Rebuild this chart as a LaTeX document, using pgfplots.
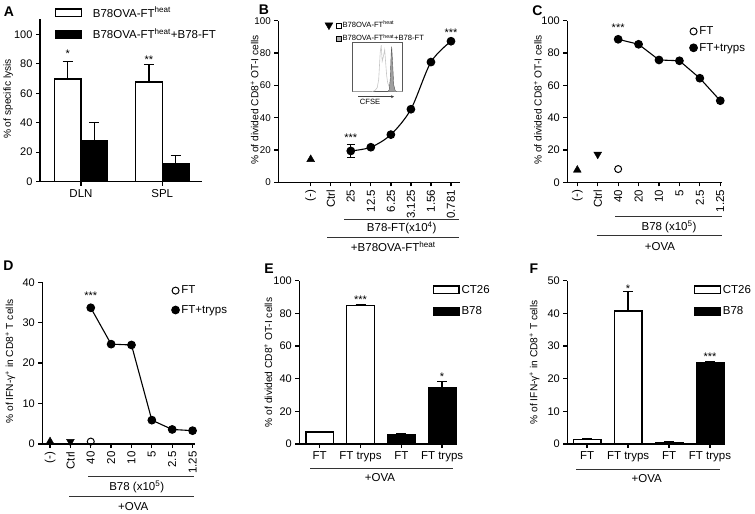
\documentclass[border=0pt]{standalone}
\usepackage{fontspec}
\setmainfont{Liberation Sans}
\usepackage{pgfplots}
\pgfplotsset{compat=1.18}
\usetikzlibrary{arrows.meta}

\newcommand{\tl}{\fontsize{11.5bp}{13bp}\selectfont}
\newcommand{\yt}{\fontsize{11bp}{12bp}\selectfont}
\newcommand{\yl}{\fontsize{10.2bp}{12bp}\selectfont}
\newcommand{\st}{\fontsize{11bp}{12bp}\selectfont}
\newcommand{\sm}{\fontsize{7.6bp}{8.5bp}\selectfont}

\pgfplotsset{
  panel/.style={
    scale only axis, anchor=south west, clip=false,
    axis x line*=bottom, axis y line*=left,
    axis line style={-, line width=1.3bp},
    every tick/.style={black, line width=1.3bp},
    major tick length=4bp, tick align=outside,
    x tick label style={font=\tl},
    y tick label style={font=\yt},
    ylabel style={font=\yl, anchor=center},
    /pgf/number format/assume math mode=true,
    ymin=0,
    legend style={draw=none, fill=none, inner sep=0pt, outer sep=0pt,
      font=\tl, anchor=north west, cells={anchor=west}},
  },
  ylab/.style 2 args={ylabel style={at={(axis description cs:#1,#2)}}},
  catx/.style={xtick={0,...,7}, x tick label style={rotate=90, anchor=east}},
  circleg/.style={legend image code/.code={\draw[##1, only marks] plot coordinates {(4bp,0bp)};}},
  boxleg/.style={legend image code/.code={\draw[##1, line width=1.3bp] (0bp,-3.8bp) rectangle (25.6bp,3.8bp);}},
  errb/.style={error bars/.cd, y dir=plus, y explicit,
    error bar style={line width=1.3bp, black},
    error mark options={rotate=90, line width=1.3bp, mark size=5bp, black}},
}

\begin{document}
\begin{tikzpicture}

% ---------------- A ----------------
\begin{axis}[panel, at={(40bp,332.3bp)}, width=161.7bp, height=162.2bp,
  xmin=0.496, xmax=2.485, ymax=110, ytick={0,20,...,100},
  xtick={1,2}, xticklabels={DLN,SPL},
  ybar=0pt, bar width=26.7bp,
  ylabel={\% of specific lysis}, ylab={-0.196}{0.51},
  legend style={at={(axis description cs:0.093,1.09)}, row sep=6bp},
  boxleg]
\addplot[fill=white, draw=black, line width=1.3bp, errb]
  coordinates {(1,69.7) +- (0,11.7) (2,67.6) +- (0,12.0)};
\addlegendentry{\hspace{9bp}B78OVA-FT\textsuperscript{heat}}
\addplot[fill=black, draw=black, line width=1.3bp, errb]
  coordinates {(1,28.1) +- (0,12.2) (2,12.0) +- (0,5.9)};
\addlegendentry{\hspace{9bp}B78OVA-FT\textsuperscript{heat}+B78-FT}
\node[font=\st] at (axis cs:0.836,86.5) {*};
\node[font=\st] at (axis cs:1.836,83) {**};
\end{axis}

% ---------------- B ----------------
\begin{axis}[panel, catx, at={(278.3bp,331.7bp)}, width=181.7bp, height=161.6bp,
  xmin=-1.616, xmax=7.45, ymax=100, ytick={0,20,...,100},
  y tick label style={font=\fontsize{9.8bp}{11bp}\selectfont},
  xticklabels={(-),Ctrl,25,12.5,6.25,3.125,1.56,0.781},
  ylabel={\% of divided CD8\textsuperscript{+} OT-I cells}, ylab={-0.13}{0.51},
  legend style={at={(axis description cs:0.254,1.01)}, font=\sm, row sep=1bp},
  legend image code/.code={\draw[#1, only marks] plot coordinates {(4.5bp,0bp)};}]
\addlegendimage{only marks, mark=triangle*, mark size=4.5bp, mark options={rotate=180}}
\addlegendentry{\hspace{1bp}\tikz[baseline=0bp]\draw[line width=0.4bp, fill=white] (0,0) rectangle (5bp,5bp);\,B78OVA-FT\textsuperscript{heat}}
\addlegendimage{empty legend}
\addlegendentry{\hspace{1bp}\tikz[baseline=0bp]\draw[line width=0.4bp, fill=gray!60] (0,0) rectangle (5bp,5bp);\,B78OVA-FT\textsuperscript{heat}+B78-FT}
\addplot[only marks, mark=triangle*, mark size=4.5bp, forget plot] coordinates {(0,14.2)};
\addplot[black, smooth, line width=1.1bp, mark=*, mark size=3.8bp, forget plot,
  error bars/.cd, y dir=both, y explicit, error bar style={line width=1.1bp},
  error mark options={rotate=90, line width=1.1bp, mark size=4bp}]
  coordinates {(2,19.4) +- (0,4.0) (3,21.7) (4,29.5) (5,45.2) (6,74.4) (7,87.3)};
\node[font=\st] at (axis cs:2,27.5) {***};
\node[font=\st] at (axis cs:7,92.5) {***};
\end{axis}

% inset histogram
\begin{axis}[scale only axis, anchor=south west, at={(352.7bp,422.3bp)},
  width=50bp, height=49bp, xmin=0, xmax=100, ymin=0, ymax=100,
  ticks=none, axis line style={line width=0.6bp, gray!70!black}]
\addplot[gray!45, line width=0.6bp] coordinates {(0,0) (38,0) (44,2) (49,8) (52,25) (55,80) (57,95) (59,62) (61,70) (64,86) (66,58) (68,32) (70,18) (73,10) (76,12) (79,6) (83,2) (88,0) (100,0)};
\addplot[fill=gray!75, draw=gray!70!black, line width=0.4bp] coordinates {(70,0) (73,4) (75,25) (77,80) (78,92) (80,55) (82,14) (85,2) (88,0)};
\end{axis}
\draw[-{Stealth[length=3bp,width=3bp]}, line width=0.7bp, gray!50!black] (358bp,417.3bp) -- (394bp,417.3bp);
\node[font=\sm] at (370bp,412.3bp) {CFSE};
% B group lines
\draw[line width=1.1bp, gray!40!black] (344.3bp,294.7bp) -- (459.3bp,294.7bp);
\node[font=\tl] at (401.7bp,286bp) {B78-FT(x10\textsuperscript{4})};
\draw[line width=1.1bp, gray!40!black] (327.3bp,276.3bp) -- (459.3bp,276.3bp);
\node[font=\tl] at (393.3bp,267.3bp) {+B78OVA-FT\textsuperscript{heat}};

% ---------------- C ----------------
\begin{axis}[panel, catx, at={(567.3bp,331.7bp)}, width=155bp, height=161.6bp,
  xmin=-0.49, xmax=7.1, ymax=100, ytick={0,20,...,100},
  xticklabels={(-),Ctrl,40,20,10,5,2.5,1.25},
  ylabel={\% of divided CD8\textsuperscript{+} OT-I cells}, ylab={-0.19}{0.51},
  legend style={at={(axis description cs:0.79,0.975)}, row sep=3bp}, circleg]
\addplot[only marks, mark=triangle*, mark size=4.5bp, forget plot] coordinates {(0,7.6)};
\addplot[only marks, mark=triangle*, mark size=4.5bp, mark options={rotate=180}, forget plot] coordinates {(1,17.3)};
\addplot[only marks, mark=o, mark size=3.5bp, line width=1bp] coordinates {(2,8.2)};
\addlegendentry{FT}
\addplot[black, line width=1.1bp, mark=*, mark size=3.8bp]
  coordinates {(2,88.5) (3,85.4) (4,75.7) (5,75.2) (6,64.4) (7,50.5)};
\addlegendentry{FT+tryps}
\node[font=\st] at (axis cs:2,95.5) {***};
\end{axis}
\draw[line width=1.1bp, gray!40!black] (615bp,297.3bp) -- (722.3bp,297.3bp);
\node[font=\tl] at (669bp,287.3bp) {B78 (x10\textsuperscript{5})};
\draw[line width=1.1bp, gray!40!black] (596.7bp,278.3bp) -- (722.3bp,278.3bp);
\node[font=\tl] at (660bp,267.3bp) {+OVA};

% ---------------- D ----------------
\begin{axis}[panel, catx, at={(42.3bp,70bp)}, width=152.3bp, height=161.7bp,
  xmin=-0.38, xmax=7.1, ymax=40, ytick={0,10,...,40},
  xticklabels={(-),Ctrl,40,20,10,5,2.5,1.25},
  ylabel={\% of IFN-γ\textsuperscript{+} in CD8\textsuperscript{+} T cells}, ylab={-0.21}{0.51},
  legend style={at={(axis description cs:0.85,0.99)}, row sep=6bp}, circleg]
\addplot[only marks, mark=triangle*, mark size=4.5bp, forget plot] coordinates {(0,0.6)};
\addplot[only marks, mark=triangle*, mark size=4.5bp, mark options={rotate=180}, forget plot] coordinates {(1,0.6)};
\addplot[only marks, mark=o, mark size=3.5bp, line width=1bp, mark options={fill=white}] coordinates {(2,0.6)};
\addlegendentry{FT}
\addplot[black, line width=1.1bp, mark=*, mark size=3.8bp]
  coordinates {(2,33.7) (3,24.7) (4,24.5) (5,5.9) (6,3.6) (7,3.3)};
\addlegendentry{FT+tryps}
\node[font=\st] at (axis cs:2,36.8) {***};
\end{axis}
\draw[line width=1.1bp, gray!40!black] (88.3bp,37.3bp) -- (194.3bp,37.3bp);
\node[font=\tl] at (136.7bp,27bp) {B78 (x10\textsuperscript{5})};
\draw[line width=1.1bp, gray!40!black] (69bp,17.3bp) -- (194.3bp,17.3bp);
\node[font=\tl] at (133.3bp,7.3bp) {+OVA};

% ---------------- E ----------------
\begin{axis}[panel, at={(299.3bp,70bp)}, width=156.7bp, height=163.3bp,
  xmin=-0.5, xmax=3.34, ymax=100, ytick={0,20,...,100},
  xtick={0,1,2,3}, xticklabels={FT,FT tryps,FT,FT tryps},
  ybar, bar width=27.7bp,
  ylabel={\% of divided CD8\textsuperscript{+} OT-I cells}, ylab={-0.198}{0.5},
  legend style={at={(axis description cs:0.851,0.985)}, row sep=8bp}, boxleg]
\addplot[fill=white, draw=black, line width=1.3bp, bar shift=0pt, errb]
  coordinates {(0,7.3) +- (0,0.3) (1,84.7) +- (0,0.5)};
\addlegendentry{CT26}
\addplot[fill=black, draw=black, line width=1.3bp, bar shift=0pt, errb]
  coordinates {(2,5.8) +- (0,0.5) (3,34.7) +- (0,3.4)};
\addlegendentry{B78}
\node[font=\st] at (axis cs:1,88.5) {***};
\node[font=\st] at (axis cs:3,41) {*};
\end{axis}
\draw[line width=1.1bp, gray!40!black] (310bp,45.7bp) -- (453.3bp,45.7bp);
\node[font=\tl] at (380bp,36.3bp) {+OVA};

% ---------------- F ----------------
\begin{axis}[panel, at={(567.3bp,70bp)}, width=155bp, height=163.3bp,
  xmin=-0.484, xmax=3.3, ymax=50, ytick={0,10,...,50},
  xtick={0,1,2,3}, xticklabels={FT,FT tryps,FT,FT tryps},
  ybar, bar width=27.7bp,
  ylabel={\% of IFN-γ\textsuperscript{+} in CD8\textsuperscript{+} T cells}, ylab={-0.212}{0.5},
  legend style={at={(axis description cs:0.817,0.985)}, row sep=8bp}, boxleg]
\addplot[fill=white, draw=black, line width=1.3bp, bar shift=0pt, errb]
  coordinates {(0,1.3) +- (0,0.3) (1,40.7) +- (0,6.1)};
\addlegendentry{CT26}
\addplot[fill=black, draw=black, line width=1.3bp, bar shift=0pt, errb]
  coordinates {(2,0.5) +- (0,0.1) (3,25.0) +- (0,0.1)};
\addlegendentry{B78}
\node[font=\st] at (axis cs:1,47.5) {*};
\node[font=\st] at (axis cs:3,26.8) {***};
\end{axis}
\draw[line width=1.1bp, gray!40!black] (576bp,44.7bp) -- (720bp,44.7bp);
\node[font=\tl] at (646.7bp,35bp) {+OVA};

% panel letters
\node[font=\bfseries\fontsize{14bp}{14bp}\selectfont] at (9bp,502bp) {A};
\node[font=\bfseries\fontsize{14bp}{14bp}\selectfont] at (264bp,504bp) {B};
\node[font=\bfseries\fontsize{14bp}{14bp}\selectfont] at (537.5bp,503bp) {C};
\node[font=\bfseries\fontsize{14bp}{14bp}\selectfont] at (8.5bp,248bp) {D};
\node[font=\bfseries\fontsize{14bp}{14bp}\selectfont] at (269bp,245bp) {E};
\node[font=\bfseries\fontsize{14bp}{14bp}\selectfont] at (534bp,245bp) {F};

\pgfresetboundingbox
\path (0bp,0bp) rectangle (755bp,514bp);
\end{tikzpicture}
\end{document}
